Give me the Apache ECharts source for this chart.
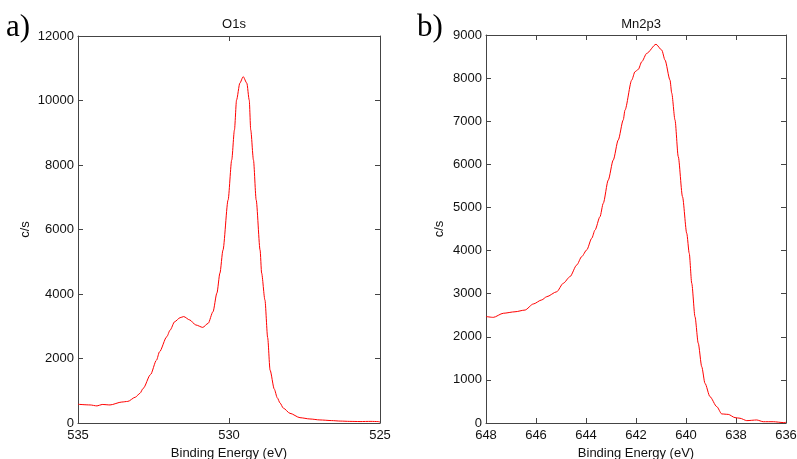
<!DOCTYPE html>
<html>
<head>
<meta charset="utf-8">
<script src="https://cdn.jsdelivr.net/npm/echarts@6/dist/echarts.min.js"></script>
<style>html,body{margin:0;padding:0;background:#fff}#c{width:797px;height:459px}</style>
</head>
<body>
<div id="c"></div>
<script>
// O1s spectrum (binding energy eV, counts/s)
var o1sEnergy = [535.0,534.6,534.37,534.2,533.94,533.55,533.35,533.1,532.95,532.84,532.6,532.4,532.3,532.06,531.95,531.8,531.62,531.5,531.3,531.1,530.87,530.69,530.53,530.4,530.3,530.2,530.03,529.91,529.82,529.75,529.64,529.53,529.41,529.33,529.28,529.19,529.1,528.97,528.92,528.81,528.72,528.64,528.5,528.4,528.31,528.2,527.98,527.65,527.32,526.99,526.6,526.32,526.0,525.66,525.3,525.07,525.0];
var o1sCounts = [580,560,530,575,560,650,670,800,920,1075,1500,1950,2210,2675,2880,3140,3265,3300,3195,3040,2965,3090,3450,4030,4650,5360,6915,8155,9085,10015,10540,10740,10540,10015,9085,8155,6915,5360,4650,3815,2650,1640,1050,780,620,460,300,165,125,95,75,60,50,45,50,45,30];
// Mn2p3 spectrum
var mnEnergy = [648.0,647.71,647.31,646.84,646.44,646.11,645.77,645.57,645.17,644.91,644.64,644.37,644.17,643.97,643.77,643.64,643.44,643.31,643.11,642.91,642.71,642.51,642.44,642.17,642.04,641.91,641.77,641.57,641.2,640.97,640.84,640.64,640.57,640.44,640.31,640.14,639.97,639.87,639.77,639.64,639.51,639.37,639.24,639.04,638.77,638.57,638.31,638.04,637.84,637.57,637.17,636.91,636.51,636.11,636.0];
var mnCounts = [2470,2450,2545,2580,2620,2760,2855,2930,3045,3240,3395,3665,3860,4015,4285,4475,4785,5095,5635,6100,6565,7030,7260,7955,8150,8200,8380,8575,8785,8650,8420,7955,7650,7030,6180,5250,4400,3935,3240,2465,1850,1305,920,610,380,210,200,125,110,55,70,30,30,10,15];
// axis ticks
var o1sXTicks = {min:525, max:535, step:5};
var o1sYTicks = {min:0, max:12000, step:2000};
var mnXTicks = {min:636, max:648, step:2};
var mnYTicks = {min:0, max:9000, step:1000};

function pairs(xs, ys){ return xs.map(function(x,i){return [x, ys[i]];}); }
function plain(v){ return String(v); }

var font = 'Liberation Sans, Arial, sans-serif';
var lineCol = '#444';

function xAx(grid, t, pos, showLabel){
  return {
    type:'value', gridIndex:grid, min:t.min, max:t.max, interval:t.step, inverse:true, position:pos,
    axisLine:{show:true, onZero:false, lineStyle:{color:lineCol, width:1}},
    axisTick:{show:true, inside:true, length:5, lineStyle:{color:lineCol}},
    axisLabel:{show:showLabel, fontSize:13, color:'#111', fontFamily:font, margin:6, formatter:plain},
    splitLine:{show:false},
    name: showLabel ? 'Binding Energy (eV)' : '',
    nameLocation:'middle', nameGap:23,
    nameTextStyle:{fontSize:13, color:'#111', fontFamily:font}
  };
}
function yAx(grid, t, pos, showLabel, gap){
  return {
    type:'value', gridIndex:grid, min:t.min, max:t.max, interval:t.step, position:pos,
    axisLine:{show:true, onZero:false, lineStyle:{color:lineCol, width:1}},
    axisTick:{show:true, inside:true, length:5, lineStyle:{color:lineCol}},
    axisLabel:{show:showLabel, fontSize:13, color:'#111', fontFamily:font, margin:4, formatter:plain},
    splitLine:{show:false},
    name: showLabel ? 'c/s' : '',
    nameLocation:'middle', nameGap:gap,
    nameTextStyle:{fontSize:13, color:'#111', fontFamily:font}
  };
}

var chart = echarts.init(document.getElementById('c'), null, {renderer:'canvas'});
chart.setOption({
  animation:false,
  backgroundColor:'#fff',
  title:[
    {text:'O1s', left:229, top:13, textAlign:'center', textStyle:{fontSize:13, fontWeight:'normal', color:'#111', fontFamily:font}},
    {text:'Mn2p3', left:636, top:13, textAlign:'center', textStyle:{fontSize:13, fontWeight:'normal', color:'#111', fontFamily:font}}
  ],
  graphic:[
    {type:'text', left:6, top:12, style:{text:'a)', font:'31px "Liberation Serif", "DejaVu Serif", serif', fill:'#000'}},
    {type:'text', left:417, top:12, style:{text:'b)', font:'31px "Liberation Serif", "DejaVu Serif", serif', fill:'#000'}}
  ],
  grid:[
    {left:78, top:36, width:302, height:387, containLabel:false, outerBoundsMode:'none'},
    {left:486, top:35, width:300, height:388, containLabel:false, outerBoundsMode:'none'}
  ],
  xAxis:[ xAx(0,o1sXTicks,'bottom',true), xAx(0,o1sXTicks,'top',false), xAx(1,mnXTicks,'bottom',true), xAx(1,mnXTicks,'top',false) ],
  yAxis:[ yAx(0,o1sYTicks,'left',true,46), yAx(0,o1sYTicks,'right',false,0), yAx(1,mnYTicks,'left',true,40), yAx(1,mnYTicks,'right',false,0) ],
  series:[
    {type:'line', xAxisIndex:0, yAxisIndex:0, data:pairs(o1sEnergy,o1sCounts), showSymbol:false, smooth:0.25, smoothMonotone:'x', lineStyle:{color:'#ff0000', width:1}},
    {type:'line', xAxisIndex:2, yAxisIndex:2, data:pairs(mnEnergy,mnCounts), showSymbol:false, smooth:0.25, smoothMonotone:'x', lineStyle:{color:'#ff0000', width:1}}
  ]
});
</script>
</body>
</html>
